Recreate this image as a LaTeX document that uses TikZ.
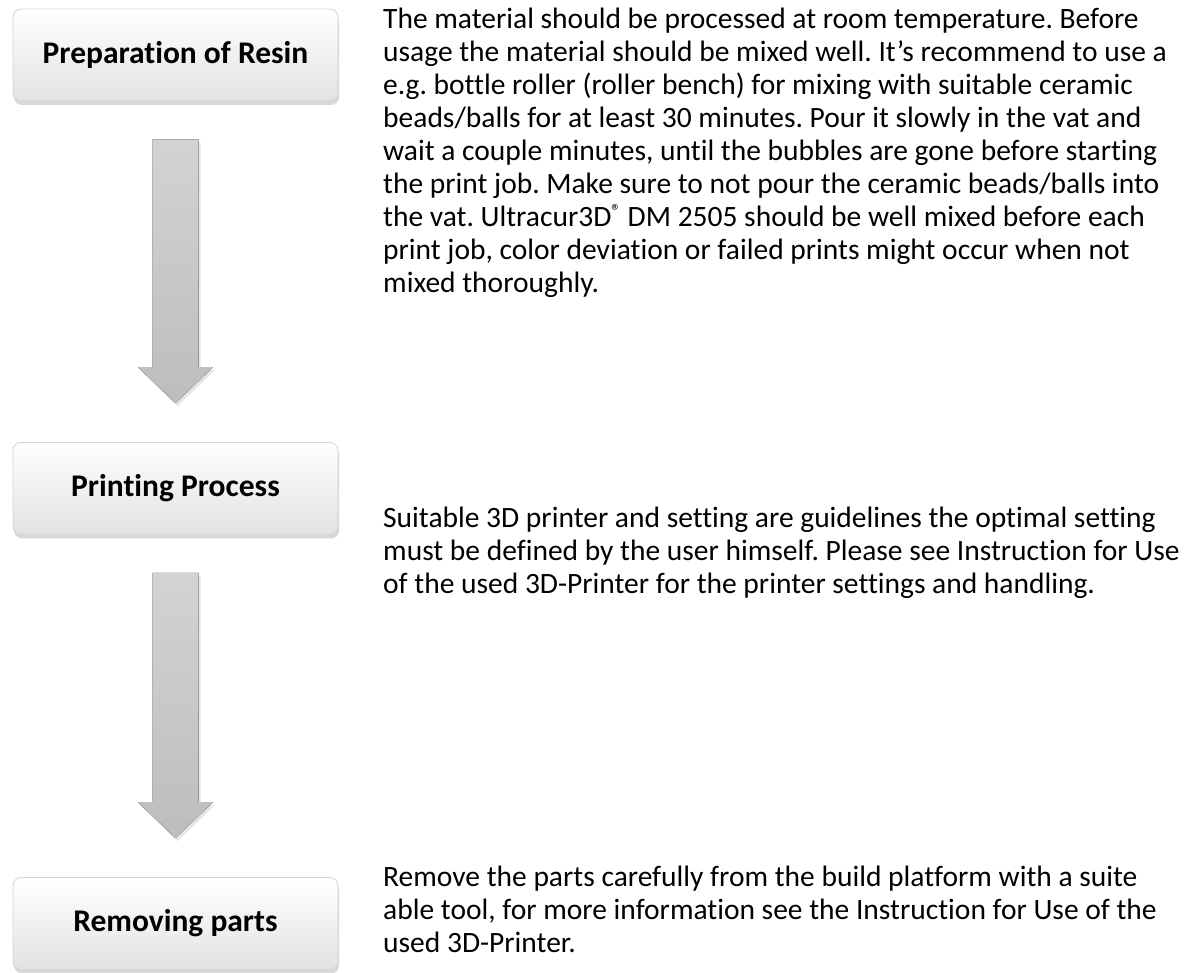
\documentclass[tikz,border=0pt]{standalone}
\usepackage{fontspec}
\setmainfont{Carlito}[Ligatures=NoCommon]
\usetikzlibrary{positioning,calc,shadows}
\definecolor{boxline}{HTML}{D4D4D4}
\definecolor{boxlow}{HTML}{E2E2E2}
\definecolor{arrtop}{HTML}{D3D3D3}
\definecolor{arrlow}{HTML}{BDBDBD}
\newcommand{\regmark}{\raisebox{0.32em}{\fontsize{19}{19}\selectfont ®}}

\begin{document}
\frenchspacing
\begin{tikzpicture}[x=1pt, y=-1pt,
  stage/.style={draw=boxline, line width=0.8pt, rounded corners=8pt,
                top color=white, bottom color=boxlow,
                minimum width=325pt, minimum height=92pt,
                font=\fontsize{31.5}{36}\selectfont\bfseries,
                drop shadow={shadow xshift=1pt, shadow yshift=-4pt, opacity=0.3}},
  note/.style={anchor=north west, align=left, inner sep=0pt,
               font=\fontsize{29.5}{33}\selectfont},
  arr/.style={top color=arrtop, bottom color=arrlow,
              drop shadow={shadow xshift=2pt, shadow yshift=-3pt, opacity=0.2}},
]
\useasboundingbox (0,0) rectangle (1187,973);

% stages
\node[stage] (b1) at (175.5,55) {Preparation of Resin};
\node[stage] (b2) at (175.5,488.5) {Printing Process};
\node[stage] (b3) at (175.5,923.5) {Removing parts};

% arrows between the stages
\path (b1.south) ++(0,38) coordinate (a1top);
\path (b2.north) ++(0,-39) coordinate (a1tip);
\path (b2.south) ++(0,38) coordinate (a2top);
\path (b3.north) ++(0,-39) coordinate (a2tip);
\foreach \s/\t in {a1top/a1tip, a2top/a2tip}
  \fill[arr] ($(\s)+(-23,0)$) -- ($(\s)+(23,0)$) -- ($(\t)+(23,-36)$)
    -- ($(\t)+(37.5,-36)$) -- (\t) -- ($(\t)+(-37.5,-36)$)
    -- ($(\t)+(-23,-36)$) -- cycle;

% descriptions
\node[note] (t1) at (383,8) {The material should be processed at room temperature. Before\\
usage the material should be mixed well. It’s recommend to use a\\
e.g. bottle roller (roller bench) for mixing with suitable ceramic\\
beads/balls for at least 30 minutes. Pour it slowly in the vat and\\
wait a couple minutes, until the bubbles are gone before starting\\
the print job. Make sure to not pour the ceramic beads/balls into\\
the vat. Ultracur3D\regmark{} DM 2505 should be well mixed before each\\
print job, color deviation or failed prints might occur when not\\
mixed thoroughly.};
\node[note] (t2) at (383,507) {Suitable 3D printer and setting are guidelines the optimal setting\\
must be defined by the user himself. Please see Instruction for Use\\
of the used 3D-Printer for the printer settings and handling.};
\node[note] (t3) at (383,866) {Remove the parts carefully from the build platform with a suite\\
able tool, for more information see the Instruction for Use of the\\
used 3D-Printer.};
\end{tikzpicture}
\end{document}
